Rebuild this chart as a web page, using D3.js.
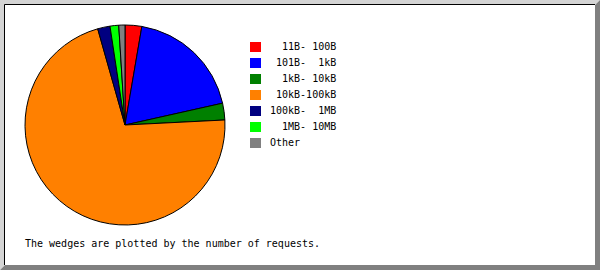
<!DOCTYPE html>
<html>
<head>
<meta charset="utf-8">
<script src="https://cdn.jsdelivr.net/npm/d3@7"></script>
<style>
  body { margin: 0; background: #fff; }
  text { font-family: "DejaVu Sans Mono", monospace; font-size: 10px; white-space: pre; }
</style>
</head>
<body>
<svg id="chart" width="600" height="270"></svg>
<script>
// Size classes, in legend order (clockwise from 12 o'clock)
const categories = ['  11B- 100B', ' 101B-  1kB', '  1kB- 10kB', ' 10kB-100kB', '100kB-  1MB', '  1MB- 10MB', 'Other'];
// Share of requests (percent)
const requestShare = [2.7, 18.8, 2.7, 71.4, 2.0, 1.4, 1.0];
const colours = ['#ff0000', '#0000ff', '#008000', '#ff8000', '#000080', '#00ff00', '#808080'];
const footnote = 'The wedges are plotted by the number of requests.';

const width = 600;
const height = 270;
const svg = d3.select('#chart');

// Bevelled frame
svg.append('rect').attr('width', width).attr('height', height).attr('fill', '#fff');
svg.append('polygon')
    .attr('points', `0,0 ${width},0 ${width - 5},5 5,5 5,${height - 5} 0,${height}`)
    .attr('fill', '#d4d4d4');
svg.append('polygon')
    .attr('points', `${width},0 ${width},${height} 0,${height} 5,${height - 5} ${width - 5},${height - 5} ${width - 5},5`)
    .attr('fill', '#808080');
svg.append('path')
    .attr('d', `M4.5,${height - 5} V4.5 H${width - 5}`)
    .attr('fill', 'none')
    .attr('stroke', '#000');

// Pie
const cx = 125, cy = 125, radius = 100;
const pie = d3.pie().sort(null).value(d => d)(requestShare);
const arc = d3.arc().innerRadius(0).outerRadius(radius);

const g = svg.append('g').attr('transform', `translate(${cx},${cy})`);
g.selectAll('.wedge')
    .data(pie)
    .enter().append('path')
    .attr('class', 'wedge')
    .attr('d', arc)
    .attr('fill', (d, i) => colours[i])
    .attr('stroke', '#000')
    .attr('stroke-width', 1);

// Legend
const legendY = d3.scalePoint().domain(d3.range(categories.length)).range([50, 146]);
const legend = svg.selectAll('.key')
    .data(categories)
    .enter().append('g')
    .attr('class', 'key')
    .attr('transform', (d, i) => `translate(0,${legendY(i)})`);

legend.append('rect')
    .attr('x', 250)
    .attr('y', -8)
    .attr('width', 11)
    .attr('height', 10)
    .attr('fill', (d, i) => colours[i]);

legend.append('text')
    .attr('x', 270)
    .attr('y', 0)
    .attr('fill', '#000')
    .text(d => d);

// Footnote
svg.append('text')
    .attr('x', 25)
    .attr('y', 247)
    .attr('fill', '#000')
    .text(footnote);
</script>
</body>
</html>
